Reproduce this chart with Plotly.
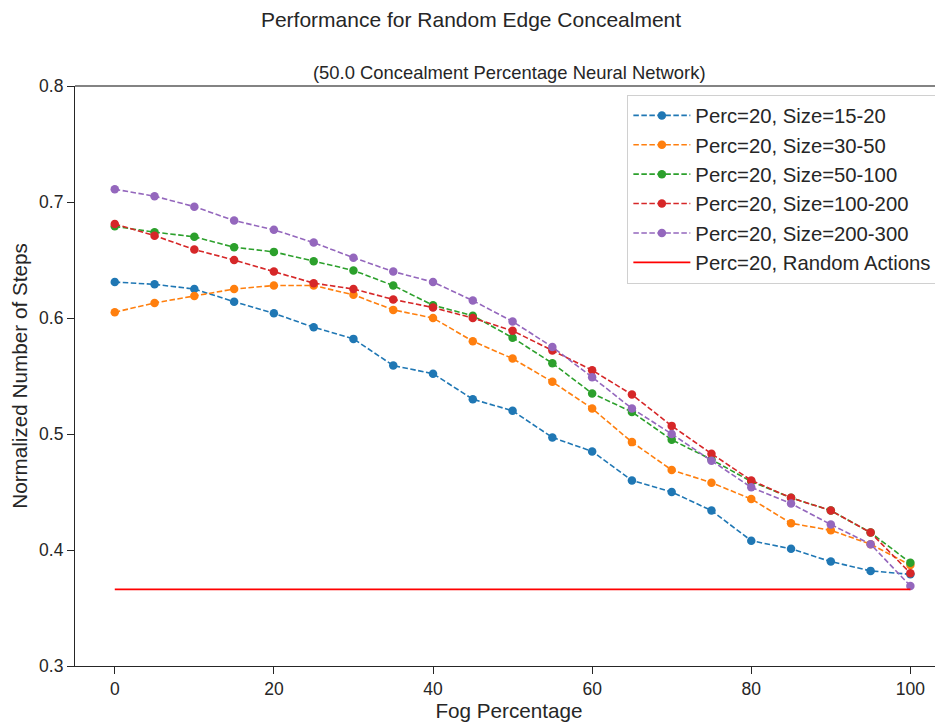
import plotly.graph_objects as go

fog = [0, 5, 10, 15, 20, 25, 30, 35, 40, 45, 50, 55, 60, 65, 70, 75, 80, 85, 90, 95, 100]

size_15_20 = [0.631, 0.629, 0.625, 0.614, 0.604, 0.592, 0.582, 0.559, 0.552, 0.530, 0.520,
              0.497, 0.485, 0.460, 0.450, 0.434, 0.408, 0.401, 0.390, 0.382, 0.379]
size_30_50 = [0.605, 0.613, 0.619, 0.625, 0.628, 0.628, 0.620, 0.607, 0.600, 0.580, 0.565,
              0.545, 0.522, 0.493, 0.469, 0.458, 0.444, 0.423, 0.417, 0.405, 0.387]
size_50_100 = [0.679, 0.674, 0.670, 0.661, 0.657, 0.649, 0.641, 0.628, 0.611, 0.602, 0.583,
               0.561, 0.535, 0.519, 0.495, 0.478, 0.459, 0.445, 0.434, 0.415, 0.389]
size_100_200 = [0.681, 0.671, 0.659, 0.650, 0.640, 0.630, 0.625, 0.616, 0.609, 0.600, 0.589,
                0.572, 0.555, 0.534, 0.507, 0.483, 0.460, 0.445, 0.434, 0.415, 0.380]
size_200_300 = [0.711, 0.705, 0.696, 0.684, 0.676, 0.665, 0.652, 0.640, 0.631, 0.615, 0.597,
                0.575, 0.549, 0.522, 0.500, 0.477, 0.454, 0.440, 0.422, 0.405, 0.369]
random_actions = 0.366

x_ticks = [0, 20, 40, 60, 80, 100]
y_ticks = [0.3, 0.4, 0.5, 0.6, 0.7, 0.8]
y_tick_labels = ["0.3", "0.4", "0.5", "0.6", "0.7", "0.8"]

series = [
    ("Perc=20, Size=15-20", size_15_20, "#1f77b4"),
    ("Perc=20, Size=30-50", size_30_50, "#ff7f0e"),
    ("Perc=20, Size=50-100", size_50_100, "#2ca02c"),
    ("Perc=20, Size=100-200", size_100_200, "#d62728"),
    ("Perc=20, Size=200-300", size_200_300, "#9467bd"),
]

fig = go.Figure()
for name, vals, col in series:
    fig.add_trace(go.Scatter(
        x=fog, y=vals, name=name, mode="lines+markers",
        line=dict(color=col, width=1.6, dash="5.5px,2.5px"),
        marker=dict(color=col, size=8.5),
    ))
fig.add_trace(go.Scatter(
    x=fog, y=[random_actions] * len(fog), name="Perc=20, Random Actions",
    mode="lines", line=dict(color="#ff0000", width=1.7),
))

txt = "#262626"
W, H = 935, 716
fig.update_layout(
    width=W, height=H,
    margin=dict(l=67, r=0, t=78, b=58),
    paper_bgcolor="white", plot_bgcolor="white",
    font=dict(family="Liberation Sans, Arial, sans-serif", color=txt, size=17),
    title=dict(text="Performance for Random Edge Concealment", x=463 / W, xanchor="center",
               y=1 - 12 / H, yanchor="middle", font=dict(size=21, color=txt)),
    showlegend=True,
    legend=dict(x=0.9935, y=0.985, xanchor="right", yanchor="top",
                bgcolor="rgba(255,255,255,0.8)", bordercolor="#d0d0d0", borderwidth=1,
                font=dict(size=20.3, color=txt), tracegroupgap=0, itemwidth=57),
    annotations=[dict(text="(50.0 Concealment Percentage Neural Network)", xref="paper", yref="paper",
                      x=0.5, y=1.0, xanchor="center", yanchor="middle", yshift=14, showarrow=False,
                      font=dict(size=18.4, color=txt))],
    shapes=[dict(type="line", xref="paper", yref="paper", x0=0, x1=1, y0=1, y1=1,
                 line=dict(color="#5a5a5a", width=1.6), layer="above")],
)
fig.update_xaxes(
    range=[-5, 104.1], tickvals=x_ticks, showgrid=False, zeroline=False,
    showline=True, linecolor=txt, linewidth=1.2,
    ticks="outside", ticklen=7, tickcolor=txt, tickwidth=1.2, tickfont=dict(size=17.5),
    title=dict(text="Fog Percentage", font=dict(size=20.7), standoff=2),
)
fig.update_yaxes(
    range=[0.3, 0.8], tickvals=y_ticks, ticktext=y_tick_labels,
    showgrid=False, zeroline=False,
    showline=True, linecolor=txt, linewidth=1.2,
    ticks="outside", ticklen=7, tickcolor=txt, tickwidth=1.2, tickfont=dict(size=17.5),
    title=dict(text="Normalized Number of Steps", font=dict(size=20.7), standoff=6),
)

fig.write_html("out.html")
